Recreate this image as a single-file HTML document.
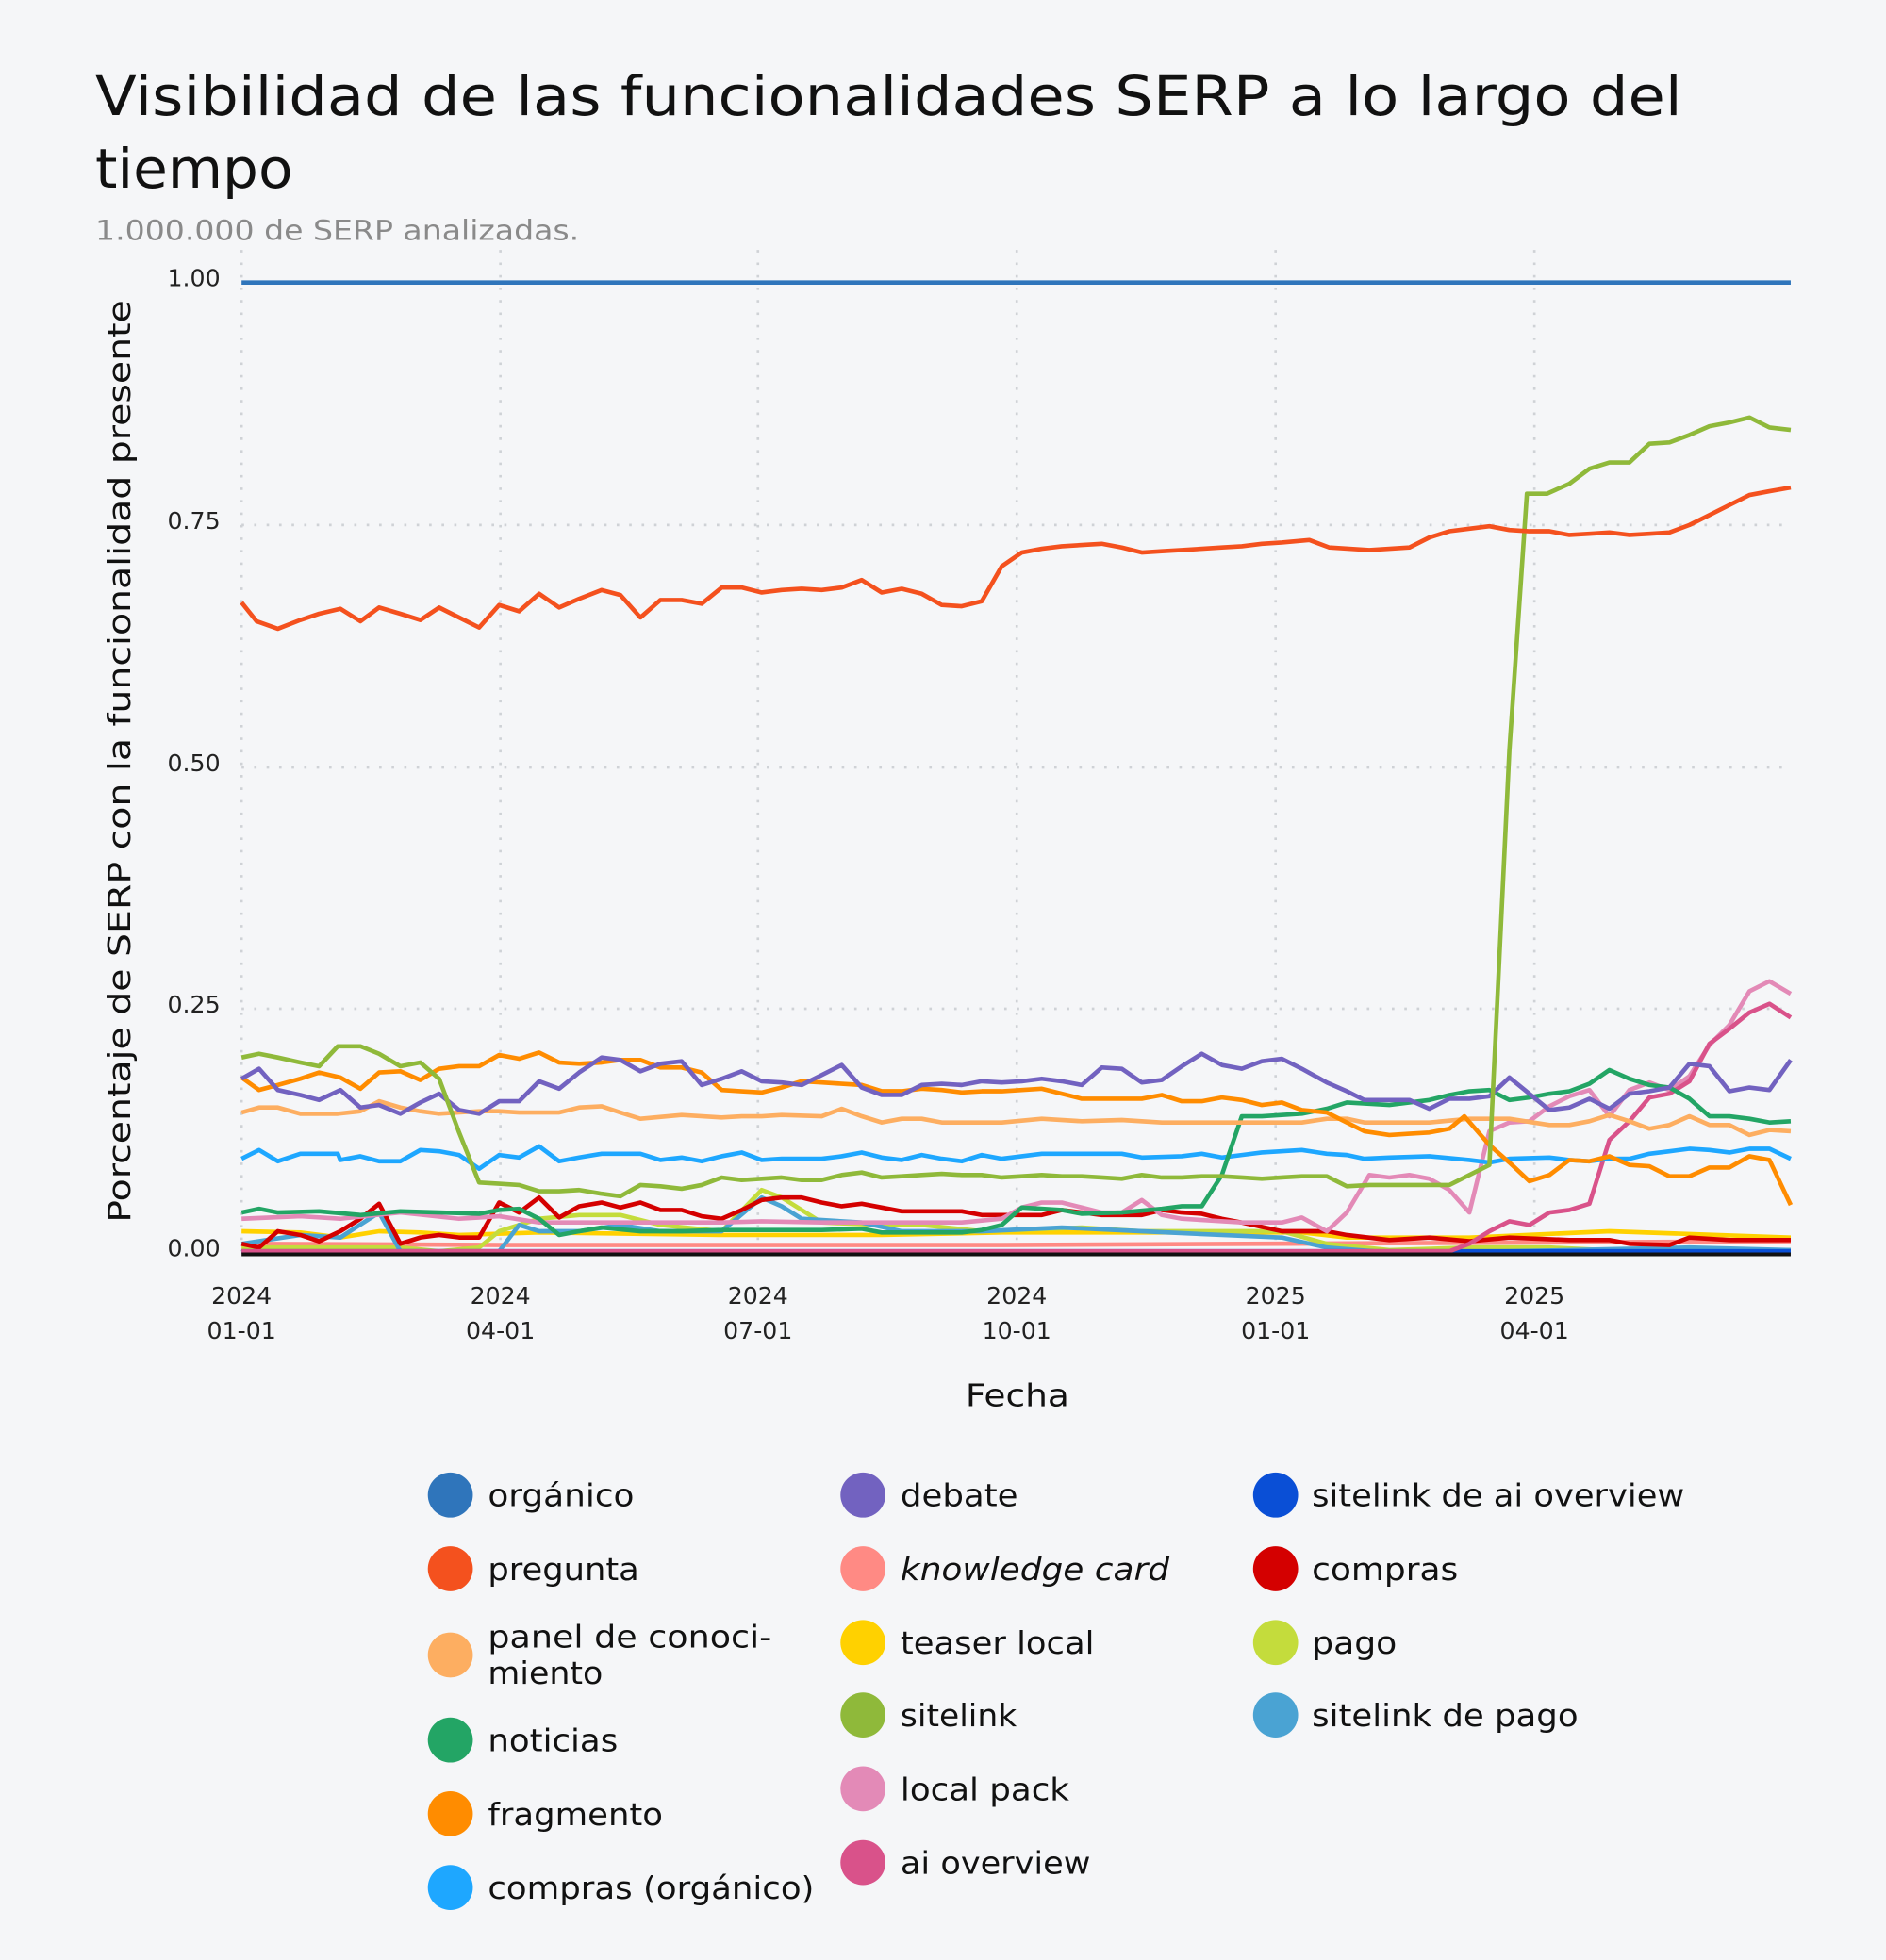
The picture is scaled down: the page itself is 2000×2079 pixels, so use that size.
<!DOCTYPE html>
<html><head><meta charset="utf-8"><style>
html,body{margin:0;padding:0;background:#f5f6f8}
svg{display:block}
text{font-family:"DejaVu Sans","Liberation Sans",sans-serif}
</style></head><body>
<svg width="2000" height="2079" viewBox="0 0 1508 1568" xmlns="http://www.w3.org/2000/svg">
<rect width="1508" height="1568" fill="#f5f6f8"/>
<text x="76" y="92" font-size="44" fill="#111" textLength="1269" lengthAdjust="spacingAndGlyphs">Visibilidad de las funcionalidades SERP a lo largo del</text>
<text x="76" y="150" font-size="44" fill="#111" textLength="158" lengthAdjust="spacingAndGlyphs">tiempo</text>
<text x="76" y="192" font-size="22" fill="#8a8a8a" textLength="387" lengthAdjust="spacingAndGlyphs">1.000.000 de SERP analizadas.</text>
<g stroke="#cfd2d6" stroke-width="2" stroke-dasharray="2 8" fill="none">
<line x1="193" y1="420" x2="1432" y2="420"/><line x1="193" y1="614" x2="1432" y2="614"/><line x1="193" y1="807" x2="1432" y2="807"/>
<line x1="193" y1="200" x2="193" y2="1001"/><line x1="400" y1="200" x2="400" y2="1001"/><line x1="606" y1="200" x2="606" y2="1001"/><line x1="813" y1="200" x2="813" y2="1001"/><line x1="1020" y1="200" x2="1020" y2="1001"/><line x1="1227" y1="200" x2="1227" y2="1001"/>
</g>
<g font-size="19" fill="#222" text-anchor="end">
<text x="176" y="229">1.00</text><text x="176" y="423">0.75</text><text x="176" y="617">0.50</text><text x="176" y="810">0.25</text><text x="176" y="1005">0.00</text>
</g>
<g font-size="19" fill="#222" text-anchor="middle">
<text x="193" y="1043">2024</text><text x="193" y="1071">01-01</text>
<text x="400" y="1043">2024</text><text x="400" y="1071">04-01</text>
<text x="606" y="1043">2024</text><text x="606" y="1071">07-01</text>
<text x="813" y="1043">2024</text><text x="813" y="1071">10-01</text>
<text x="1020" y="1043">2025</text><text x="1020" y="1071">01-01</text>
<text x="1227" y="1043">2025</text><text x="1227" y="1071">04-01</text>
</g>
<text x="772" y="1125" font-size="25" fill="#111" textLength="83" lengthAdjust="spacingAndGlyphs">Fecha</text>
<text transform="translate(104,978) rotate(-90)" font-size="25" fill="#111" textLength="738" lengthAdjust="spacingAndGlyphs">Porcentaje de SERP con la funcionalidad presente</text>
<g fill="none" stroke-width="3.5" stroke-linejoin="round">
<polyline stroke="#ff8a84" points="193,995 400,996 801,996 1432,993"/>
<polyline stroke="#ffd100" points="193,985 240,986 272,990 303,985 336,986 367,988 431,986 577,988 609,988 705,988 801,986 897,986 993,986 1041,986 1077,990 1175,990 1287,985 1432,990"/>
<polyline stroke="#c4dc3c" points="193,998 320,998 351,1001 383,998 399,985 431,975 463,972 496,972 528,980 577,985 609,952 625,958 641,968 657,978 705,980 737,980 785,985 865,982 913,985 1025,985 1061,995 1111,1000 1175,998 1239,998 1303,1001 1432,1000"/>
<polyline stroke="#4aa3d3" points="193,995 240,988 272,990 303,970 320,1001 399,1001 415,980 431,985 463,985 496,980 528,985 577,985 609,958 625,965 641,975 689,978 721,985 785,985 849,982 913,985 977,988 1025,990 1061,998 1111,1002 1207,1001 1351,998 1432,1000"/>
<polyline stroke="#0a4fd6" points="193,1001 1432,1001"/>
<polyline stroke="#d40000" points="193,995 207,998 222,985 240,988 255,993 272,985 288,975 303,963 320,995 336,990 351,988 367,990 383,990 399,962 415,970 431,958 447,974 463,965 481,962 496,966 512,962 528,968 545,968 561,973 577,975 593,968 609,960 625,958 641,958 657,962 673,965 689,963 705,966 721,969 769,969 785,972 817,972 833,972 849,968 881,972 913,972 929,968 945,970 961,971 977,975 993,978 1025,985 1061,985 1077,988 1111,992 1143,990 1175,993 1207,990 1255,992 1287,992 1303,995 1335,996 1351,990 1383,992 1432,992"/>
<polyline stroke="#e38ab7" points="193,975 240,973 272,975 320,970 367,975 399,973 431,978 463,978 577,978 609,977 657,978 705,978 737,978 769,978 801,975 817,966 833,962 849,962 865,966 881,970 897,970 913,960 929,972 945,975 961,976 993,978 1025,978 1041,974 1061,985 1077,970 1095,940 1111,942 1127,940 1143,943 1159,952 1175,970 1191,905 1207,898 1223,897 1239,885 1255,877 1271,872 1287,893 1303,872 1319,866 1335,872 1351,861 1367,836 1383,820 1399,793 1415,785 1432,795"/>
<polyline stroke="#d9528a" points="193,1001 1159,1001 1175,995 1191,985 1207,977 1223,980 1239,970 1255,968 1271,963 1287,912 1303,897 1319,878 1335,875 1351,865 1367,835 1383,823 1399,810 1415,803 1432,814"/>
<polyline stroke="#1ea7ff" points="193,927 207,920 222,929 240,923 270,923 272,928 288,925 303,929 320,929 336,920 351,921 367,924 383,935 399,924 415,926 431,917 447,929 463,926 481,923 512,923 528,928 545,926 561,929 577,925 593,922 609,928 625,927 657,927 673,925 689,922 705,926 721,928 737,924 753,927 769,929 785,924 801,927 817,925 833,923 897,923 913,926 945,925 961,923 977,926 993,924 1009,922 1041,920 1061,923 1077,924 1091,927 1111,926 1143,925 1175,928 1191,930 1207,927 1239,926 1255,928 1271,929 1287,927 1303,927 1319,923 1335,921 1351,919 1367,920 1383,922 1399,919 1415,919 1432,927"/>
<polyline stroke="#23a565" points="193,970 207,967 222,970 255,969 288,972 320,969 351,970 383,971 399,968 415,967 431,975 447,988 463,985 481,982 512,985 545,985 577,984 609,984 657,984 689,983 705,986 737,986 769,986 785,984 801,980 817,966 849,968 865,971 897,970 929,967 945,965 961,965 977,940 993,893 1009,893 1025,892 1041,891 1061,887 1077,882 1095,883 1111,884 1143,880 1159,876 1175,873 1191,872 1207,880 1223,878 1239,875 1255,873 1271,867 1287,856 1303,863 1319,868 1335,870 1351,879 1367,893 1383,893 1399,895 1415,898 1432,897"/>
<polyline stroke="#fdae61" points="193,890 207,886 222,886 240,891 270,891 288,889 303,881 320,886 336,889 351,891 383,889 399,889 415,890 447,890 463,886 481,885 496,890 512,895 545,892 577,894 593,893 609,893 625,892 657,893 673,887 689,893 705,898 721,895 737,895 753,898 801,898 833,895 865,897 897,896 929,898 961,898 993,898 1041,898 1061,895 1077,895 1091,898 1143,898 1175,895 1207,895 1239,900 1255,900 1271,897 1287,892 1303,897 1319,903 1335,900 1351,893 1367,900 1383,900 1399,908 1415,904 1432,905"/>
<polyline stroke="#ff8c00" points="193,862 207,872 222,868 240,863 255,858 272,862 288,871 303,858 320,857 336,864 351,855 367,853 383,853 399,844 415,847 431,842 447,850 463,851 481,850 496,848 512,848 528,854 545,854 561,858 577,872 593,873 609,874 625,870 641,865 657,866 673,867 689,868 705,873 721,873 737,871 753,872 769,874 785,873 801,873 817,872 833,871 849,875 865,879 881,879 897,879 913,879 929,876 945,881 961,881 977,878 993,880 1009,884 1025,882 1041,888 1061,890 1077,898 1091,905 1111,908 1127,907 1143,906 1159,903 1171,893 1191,916 1207,930 1223,945 1239,940 1255,928 1271,929 1287,925 1303,932 1319,933 1335,941 1351,941 1367,934 1383,934 1399,925 1415,928 1432,964"/>
<polyline stroke="#7262c0" points="193,863 207,855 222,872 240,876 255,880 272,872 288,886 303,884 320,891 336,882 351,875 367,888 383,891 399,881 415,881 431,865 447,871 463,858 481,846 496,848 512,857 528,851 545,849 561,868 577,863 593,857 609,865 625,866 641,868 657,860 673,852 689,870 705,876 721,876 737,868 753,867 769,868 785,865 801,866 817,865 833,863 849,865 865,868 881,854 897,855 913,866 929,864 945,853 961,843 977,852 993,855 1009,849 1025,847 1041,855 1061,866 1077,873 1091,880 1111,880 1127,880 1143,887 1159,879 1175,879 1191,877 1207,862 1223,875 1239,888 1255,886 1271,879 1287,887 1303,875 1319,873 1335,870 1351,851 1367,853 1383,873 1399,870 1415,872 1432,848"/>
<polyline stroke="#8fb93a" points="193,846 207,843 222,846 240,850 255,853 270,837 288,837 303,843 320,853 336,850 351,863 367,906 383,946 399,947 415,948 431,953 447,953 463,952 481,955 496,957 512,948 528,949 545,951 561,948 577,942 593,944 609,943 625,942 641,944 657,944 673,940 689,938 705,942 721,941 737,940 753,939 769,940 785,940 801,942 817,941 833,940 849,941 865,941 881,942 897,943 913,940 929,942 945,942 961,941 977,941 993,942 1009,943 1025,942 1041,941 1061,941 1077,949 1095,948 1111,948 1127,948 1143,948 1159,948 1175,940 1191,932 1207,600 1221,395 1237,395 1255,387 1271,375 1287,370 1303,370 1319,355 1335,354 1351,348 1367,341 1383,338 1399,334 1415,342 1432,344"/>
<polyline stroke="#f4511e" points="193,482 205,497 222,503 240,496 255,491 272,487 288,497 303,486 320,491 336,496 351,486 367,494 383,502 399,484 415,489 431,475 447,486 463,479 481,472 496,476 512,494 528,480 545,480 561,483 577,470 593,470 609,474 625,472 641,471 657,472 673,470 689,464 705,474 721,471 737,475 753,484 769,485 785,481 801,453 817,442 833,439 849,437 865,436 881,435 897,438 913,442 929,441 945,440 961,439 977,438 993,437 1009,435 1025,434 1047,432 1063,438 1079,439 1095,440 1111,439 1127,438 1143,430 1159,425 1175,423 1191,421 1207,424 1223,425 1239,425 1255,428 1271,427 1287,426 1303,428 1319,427 1335,426 1351,420 1367,412 1383,404 1399,396 1415,393 1432,390"/>
<polyline stroke="#2f75bb" points="193,226 1432,226"/>
</g>
<line x1="193" y1="1003.5" x2="1432" y2="1003.5" stroke="#111" stroke-width="3"/>
<g font-size="25" fill="#111" lengthAdjust="spacingAndGlyphs">
<circle cx="360" cy="1196" r="18" fill="#2f75bb"/><text x="390" y="1205" textLength="117" lengthAdjust="spacingAndGlyphs">orgánico</text>
<circle cx="360" cy="1255" r="18" fill="#f4511e"/><text x="390" y="1264" textLength="121" lengthAdjust="spacingAndGlyphs">pregunta</text>
<circle cx="360" cy="1324" r="18" fill="#fdae61"/><text x="390" y="1318" textLength="227" lengthAdjust="spacingAndGlyphs">panel de conoci-</text><text x="390" y="1347" textLength="92" lengthAdjust="spacingAndGlyphs">miento</text>
<circle cx="360" cy="1392" r="18" fill="#23a565"/><text x="390" y="1401" textLength="104" lengthAdjust="spacingAndGlyphs">noticias</text>
<circle cx="360" cy="1451" r="18" fill="#ff8c00"/><text x="390" y="1460" textLength="140" lengthAdjust="spacingAndGlyphs">fragmento</text>
<circle cx="360" cy="1510" r="18" fill="#1ea7ff"/><text x="390" y="1519" textLength="261" lengthAdjust="spacingAndGlyphs">compras (orgánico)</text>
<circle cx="690" cy="1196" r="18" fill="#7262c0"/><text x="720" y="1205" textLength="94" lengthAdjust="spacingAndGlyphs">debate</text>
<circle cx="690" cy="1255" r="18" fill="#ff8a84"/><text x="720" y="1264" font-style="italic" textLength="215" lengthAdjust="spacingAndGlyphs">knowledge card</text>
<circle cx="690" cy="1314" r="18" fill="#ffd100"/><text x="720" y="1323" textLength="155" lengthAdjust="spacingAndGlyphs">teaser local</text>
<circle cx="690" cy="1372" r="18" fill="#8fb93a"/><text x="720" y="1381" textLength="93" lengthAdjust="spacingAndGlyphs">sitelink</text>
<circle cx="690" cy="1431" r="18" fill="#e38ab7"/><text x="720" y="1440" textLength="135" lengthAdjust="spacingAndGlyphs">local pack</text>
<circle cx="690" cy="1490" r="18" fill="#d9528a"/><text x="720" y="1499" textLength="152" lengthAdjust="spacingAndGlyphs">ai overview</text>
<circle cx="1020" cy="1196" r="18" fill="#0a4fd6"/><text x="1049" y="1205" textLength="298" lengthAdjust="spacingAndGlyphs">sitelink de ai overview</text>
<circle cx="1020" cy="1255" r="18" fill="#d40000"/><text x="1049" y="1264" textLength="117" lengthAdjust="spacingAndGlyphs">compras</text>
<circle cx="1020" cy="1314" r="18" fill="#c4dc3c"/><text x="1049" y="1323" textLength="68" lengthAdjust="spacingAndGlyphs">pago</text>
<circle cx="1020" cy="1372" r="18" fill="#4aa3d3"/><text x="1049" y="1381" textLength="213" lengthAdjust="spacingAndGlyphs">sitelink de pago</text>
</g>
</svg>
</body></html>
